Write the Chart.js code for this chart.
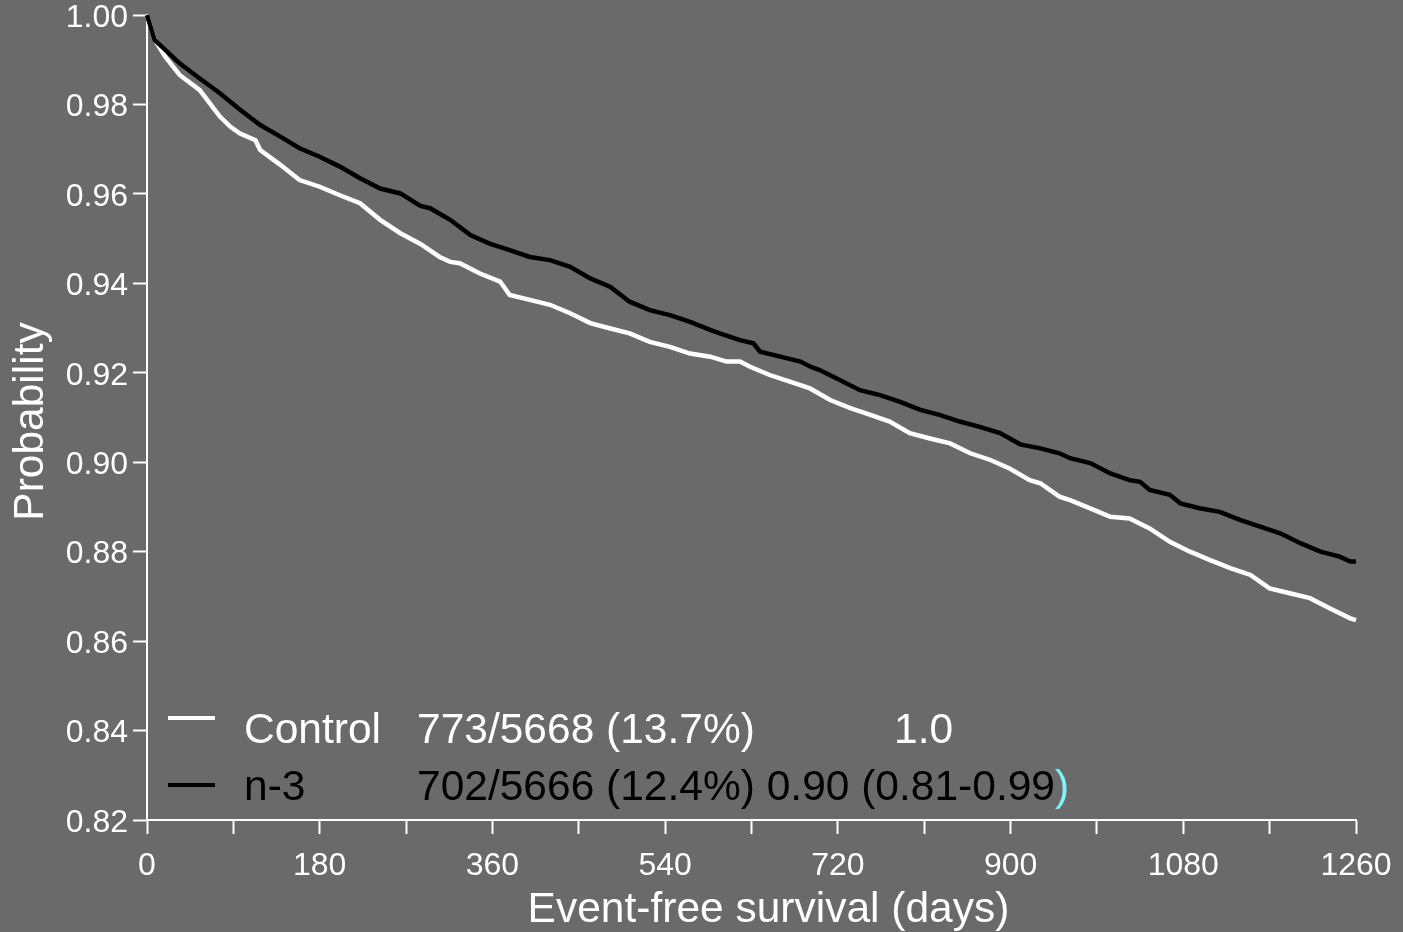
<!DOCTYPE html>
<html>
<head>
<meta charset="utf-8">
<script src="https://cdn.jsdelivr.net/npm/chart.js@4.4.1/dist/chart.umd.min.js"></script>
<style>
  html, body { margin: 0; padding: 0; background: #6a6a6a; overflow: hidden; }
  #wrap { width: 1403px; height: 932px; }
</style>
</head>
<body>
<div id="wrap"><canvas id="c" width="1403" height="932"></canvas></div>
<script>
// ---- Data ----
const controlDays = [0, 8, 19, 34, 55, 76, 87, 97, 113, 118, 139, 159, 180, 201, 222, 243, 264, 285, 305, 316, 326, 347, 368, 378, 399, 420, 441, 462, 483, 503, 524, 545, 566, 587, 604, 618, 628, 649, 670, 691, 712, 733, 754, 774, 795, 816, 837, 858, 879, 899, 920, 931, 951, 962, 983, 1004, 1024, 1045, 1066, 1087, 1108, 1129, 1150, 1170, 1191, 1212, 1233, 1254, 1260];
const controlSurv = [1.000, 0.9945, 0.9907, 0.9866, 0.9832, 0.9773, 0.9750, 0.9735, 0.9720, 0.9698, 0.9665, 0.9631, 0.9616, 0.9597, 0.9579, 0.9542, 0.9512, 0.9488, 0.9459, 0.9448, 0.9445, 0.9422, 0.9404, 0.9374, 0.9363, 0.9352, 0.9333, 0.9311, 0.9299, 0.9288, 0.9269, 0.9258, 0.9243, 0.9236, 0.9225, 0.9225, 0.9214, 0.9195, 0.9180, 0.9165, 0.9139, 0.9121, 0.9106, 0.9091, 0.9065, 0.9053, 0.9042, 0.9020, 0.9005, 0.8986, 0.8960, 0.8953, 0.8923, 0.8915, 0.8897, 0.8878, 0.8874, 0.8852, 0.8822, 0.8800, 0.8781, 0.8763, 0.8748, 0.8718, 0.8707, 0.8696, 0.8673, 0.8651, 0.8647];

const n3Days = [0, 8, 19, 34, 55, 76, 97, 118, 139, 159, 180, 201, 222, 243, 264, 285, 295, 316, 337, 357, 378, 399, 420, 441, 462, 483, 503, 524, 545, 566, 587, 597, 618, 632, 639, 660, 681, 691, 701, 722, 743, 764, 785, 806, 826, 847, 868, 889, 910, 931, 951, 962, 983, 1004, 1024, 1035, 1045, 1066, 1077, 1097, 1118, 1139, 1160, 1181, 1202, 1223, 1243, 1254, 1260];
const n3Surv = [1.000, 0.9944, 0.9922, 0.9892, 0.9858, 0.9825, 0.9788, 0.9754, 0.9728, 0.9702, 0.9683, 0.9661, 0.9635, 0.9612, 0.9601, 0.9573, 0.9568, 0.9542, 0.9508, 0.9489, 0.9474, 0.9459, 0.9452, 0.9437, 0.9411, 0.9392, 0.9359, 0.9340, 0.9329, 0.9314, 0.9296, 0.9288, 0.9273, 0.9266, 0.9247, 0.9236, 0.9225, 0.9214, 0.9206, 0.9184, 0.9161, 0.9150, 0.9135, 0.9117, 0.9106, 0.9091, 0.9079, 0.9065, 0.9040, 0.9031, 0.9020, 0.9009, 0.8998, 0.8975, 0.8960, 0.8956, 0.8938, 0.8927, 0.8908, 0.8897, 0.8889, 0.8871, 0.8856, 0.8841, 0.8819, 0.8800, 0.8789, 0.8778, 0.8778];

const xTickLabels = [0, 180, 360, 540, 720, 900, 1080, 1260];
const legendNames = ['Control', 'n-3'];
const legendEvents = ['773/5668 (13.7%)', '702/5666 (12.4%)'];
const legendHR = ['1.0', '0.90 (0.81-0.99'];
const legendHRClose = ['', ')'];
const xTitle = 'Event-free survival (days)';
const yTitle = 'Probability';

// ---- Styles ----
const BG = '#6a6a6a';
const FONT = '"Liberation Sans", Arial, Helvetica, sans-serif';

const bgPlugin = {
  id: 'bg',
  beforeDraw(chart) {
    const ctx = chart.ctx;
    ctx.save();
    ctx.fillStyle = BG;
    ctx.fillRect(0, 0, chart.width, chart.height);
    ctx.restore();
  }
};

const textPlugin = {
  id: 'texts',
  afterDraw(chart) {
    const ctx = chart.ctx;
    const ca = chart.chartArea;
    ctx.save();
    // axis titles
    ctx.fillStyle = '#ffffff';
    ctx.font = '42.5px ' + FONT;
    ctx.textAlign = 'center';
    ctx.textBaseline = 'alphabetic';
    ctx.fillText(xTitle, (ca.left + ca.right) / 2 + 17, 922);
    ctx.save();
    ctx.translate(43, (ca.top + ca.bottom) / 2 + 4);
    ctx.rotate(-Math.PI / 2);
    ctx.fillText(yTitle, 0, 0);
    ctx.restore();

    // legend
    const colors = ['#ffffff', '#000000'];
    const sampleY = [718, 785];
    const baseY = [743, 800];
    ctx.textAlign = 'left';
    for (let i = 0; i < legendNames.length; i++) {
      ctx.strokeStyle = colors[i];
      ctx.lineWidth = 4;
      ctx.beginPath();
      ctx.moveTo(168, sampleY[i]);
      ctx.lineTo(215, sampleY[i]);
      ctx.stroke();
      ctx.fillStyle = colors[i];
      ctx.fillText(legendNames[i], 244, baseY[i]);
      ctx.fillText(legendEvents[i], 417, baseY[i]);
      let hx;
      if (i === 0) {
        hx = 894;
      } else {
        hx = 417 + ctx.measureText(legendEvents[i] + ' ').width;
      }
      ctx.fillText(legendHR[i], hx, baseY[i]);
      if (legendHRClose[i]) {
        const cx = hx + ctx.measureText(legendHR[i]).width;
        ctx.fillStyle = '#80f4f4';
        ctx.fillText(legendHRClose[i], cx, baseY[i]);
      }
    }
    ctx.restore();
  }
};

const toPts = (xs, ys) => xs.map((x, i) => ({ x: x, y: ys[i] }));

new Chart(document.getElementById('c'), {
  type: 'line',
  data: {
    datasets: [
      {
        label: 'Control',
        data: toPts(controlDays, controlSurv),
        borderColor: '#ffffff',
        borderWidth: 4.5,
        pointRadius: 0,
        tension: 0,
        clip: false,
        order: 1
      },
      {
        label: 'n-3',
        data: toPts(n3Days, n3Surv),
        borderColor: '#000000',
        borderWidth: 4.5,
        pointRadius: 0,
        tension: 0,
        clip: false,
        order: 0
      }
    ]
  },
  options: {
    responsive: false,
    animation: false,
    devicePixelRatio: 1,
    layout: { padding: { left: 0, right: 47, top: 15, bottom: 0 } },
    plugins: {
      legend: { display: false },
      tooltip: { enabled: false }
    },
    scales: {
      x: {
        type: 'linear',
        min: 0,
        max: 1260,
        afterFit(scale) {
          scale.height = 112;
          scale.paddingLeft = 0;
          scale.paddingRight = 0;
        },
        border: { display: true, color: '#ffffff', width: 2 },
        grid: {
          drawOnChartArea: false,
          drawTicks: true,
          tickLength: 14,
          tickWidth: 2,
          tickColor: '#ffffff'
        },
        ticks: {
          stepSize: 90,
          autoSkip: false,
          maxRotation: 0,
          color: '#ffffff',
          padding: 13,
          font: { family: FONT, size: 32 },
          callback: (v) => xTickLabels.includes(v) ? String(v) : ''
        }
      },
      y: {
        type: 'linear',
        min: 0.82,
        max: 1.0,
        afterFit(scale) {
          scale.width = 147;
          scale.paddingTop = 0;
          scale.paddingBottom = 0;
        },
        border: { display: true, color: '#ffffff', width: 2 },
        grid: {
          drawOnChartArea: false,
          drawTicks: true,
          tickLength: 14,
          tickWidth: 2,
          tickColor: '#ffffff'
        },
        ticks: {
          stepSize: 0.02,
          autoSkip: false,
          color: '#ffffff',
          padding: 5,
          labelOffset: 3,
          font: { family: FONT, size: 32 },
          callback: (v) => Number(v).toFixed(2)
        }
      }
    }
  },
  plugins: [bgPlugin, textPlugin]
});
</script>
</body>
</html>
